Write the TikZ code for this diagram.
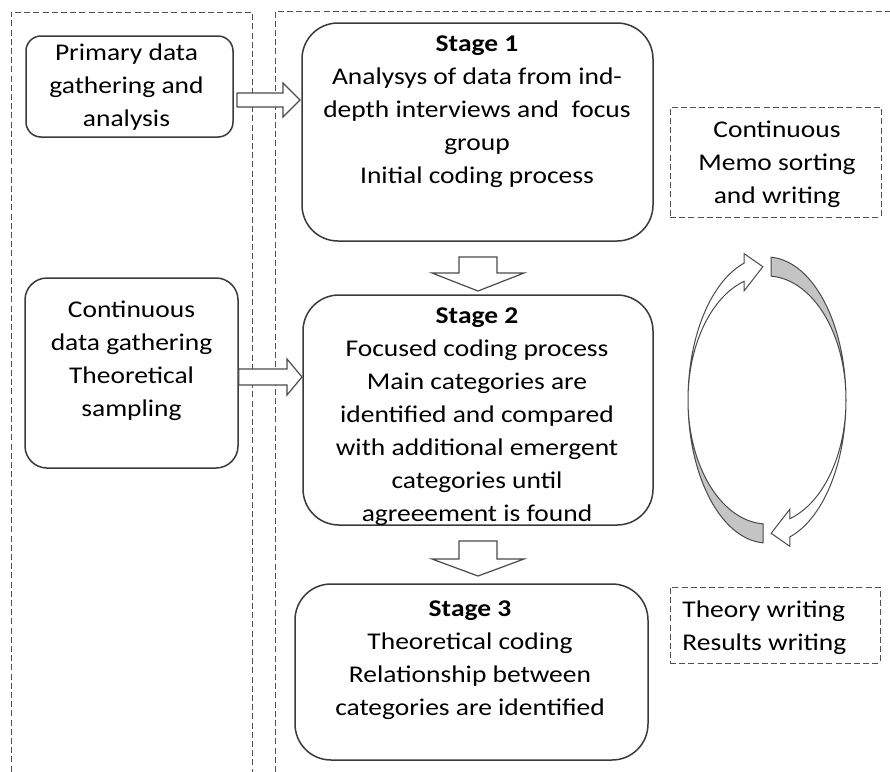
\documentclass[tikz,border=0pt]{standalone}
\usepackage{fontspec}
\setmainfont{Carlito}[FakeStretch=1.145]
\definecolor{boxc}{HTML}{3A3A3A}
\definecolor{dashc}{HTML}{505050}
\definecolor{arrc}{HTML}{4A4A4A}
\definecolor{backc}{HTML}{C4C4C4}
\begin{document}
\begin{tikzpicture}[x=0.5pt,y=-0.5pt,
  box/.style={draw=boxc, line width=0.75pt, rounded corners=#1, inner sep=0pt, fill=white},
  box/.default=18pt,
  dbox/.style={draw=dashc, line width=0.5pt, dash pattern=on 3pt off 1.6pt, inner sep=0pt},
  panel/.style={draw=dashc, line width=0.5pt, dash pattern=on 3pt off 1.6pt},
  txt/.style={align=center, font=\fontsize{12}{16.5}\selectfont, inner sep=0pt, text=black},
  blk/.style={draw=arrc, line width=0.6pt, fill=white, line join=miter},
  cyc/.style={draw=arrc, line width=0.5pt, line join=miter},
]
\useasboundingbox (0,0) rectangle (890,772);
\clip (0,0) rectangle (890,772);

% panels
\draw[panel] (11,790) -- (11,12) -- (252,12) -- (252,790);
\draw[panel] (900,11) -- (275,11) -- (275,790);

% boxes
\node[box=7.5pt, minimum width=103.5pt, minimum height=50.5pt] (prim) at (129.5,86.5) {};
\node[box=11pt, minimum width=106.5pt, minimum height=95pt] (cont) at (131.5,373) {};
\node[box, minimum width=175.5pt, minimum height=109pt] (s1) at (477.5,132) {};
\node[box, minimum width=175pt, minimum height=115pt] (s2) at (478,410) {};
\node[box, minimum width=176.5pt, minimum height=88pt] (s3) at (471.5,672) {};
\node[dbox, minimum width=105.5pt, minimum height=55pt] (memo) at (775.5,162) {};
\node[dbox, minimum width=105pt, minimum height=38pt] (theory) at (775,625) {};

% texts
\node[txt] (primt) at (126.5,87) {Primary data\\gathering and\\analysis};
\node[txt] (contt) at (131.5,361) {Continuous\\data gathering\\Theoretical\\sampling};
\node[txt] (s1t) at (477,112) {\textbf{Stage 1}\\Analysys of data from ind-\\depth interviews and\ \ focus\\group\\Initial coding process};
\node[txt] (s2t) at (477,417) {\textbf{Stage 2}\\Focused coding process\\Main categories are\\identified and compared\\with additional emergent\\categories until\\agreeement is found};
\node[txt] (s3t) at (470,660) {\textbf{Stage 3}\\Theoretical coding\\Relationship between\\categories are identified};
\node[txt] (memot) at (777,164) {Continuous\\Memo sorting\\and writing};
\node[txt, align=left, anchor=west] (theoryt) at (682,628) {Theory writing\\Results writing};

% block arrows
\draw[blk] (237,93) -- (283,93) -- (283,83) -- (300,100) -- (283,117) -- (283,107) -- (237,107) -- cycle;
\draw[blk] (cont.east |- 0,369) -- (287,369) -- (287,359) -- (302,377) -- (287,395) -- (287,385) -- (cont.east |- 0,385) -- cycle;
\draw[blk] (459,257) -- (497,257) -- (497,273) -- (524,273) -- (478,291) -- (432,273) -- (459,273) -- cycle;
\draw[blk] (459,541) -- (497,541) -- (497,559) -- (524,559) -- (478,576) -- (432,559) -- (459,559) -- cycle;

% cycle arrows
\filldraw[cyc, fill=backc] plot[domain=180:267.1, samples=40, smooth] ({767+79*cos(\x)},{400-143*sin(\x)})
  -- plot[domain=267.1:180, samples=40, smooth] ({767+79*cos(\x)},{400-124*sin(\x)}) -- cycle;
\filldraw[cyc, fill=backc] plot[domain=0:87.1, samples=40, smooth] ({767+79*cos(\x)},{400-143*sin(\x)})
  -- plot[domain=87.1:0, samples=40, smooth] ({767+79*cos(\x)},{400-124*sin(\x)}) -- cycle;
\filldraw[cyc, fill=white] plot[domain=180:106.9, samples=40, smooth] ({767+79*cos(\x)},{400-143*sin(\x)})
  -- ({767+79*cos(106.9)},{400-153*sin(106.9)}) -- ({767+79*cos(93)},{400-133.5*sin(93)})
  -- ({767+79*cos(106.9)},{400-114*sin(106.9)})
  -- plot[domain=106.9:180, samples=40, smooth] ({767+79*cos(\x)},{400-124*sin(\x)}) -- cycle;
\filldraw[cyc, fill=white] plot[domain=0:-73.1, samples=40, smooth] ({767+79*cos(\x)},{400-143*sin(\x)})
  -- ({767+79*cos(-73.1)},{400-153*sin(-73.1)}) -- ({767+79*cos(-87)},{400-133.5*sin(-87)})
  -- ({767+79*cos(-73.1)},{400-114*sin(-73.1)})
  -- plot[domain=-73.1:0, samples=40, smooth] ({767+79*cos(\x)},{400-124*sin(\x)}) -- cycle;
\end{tikzpicture}
\end{document}
